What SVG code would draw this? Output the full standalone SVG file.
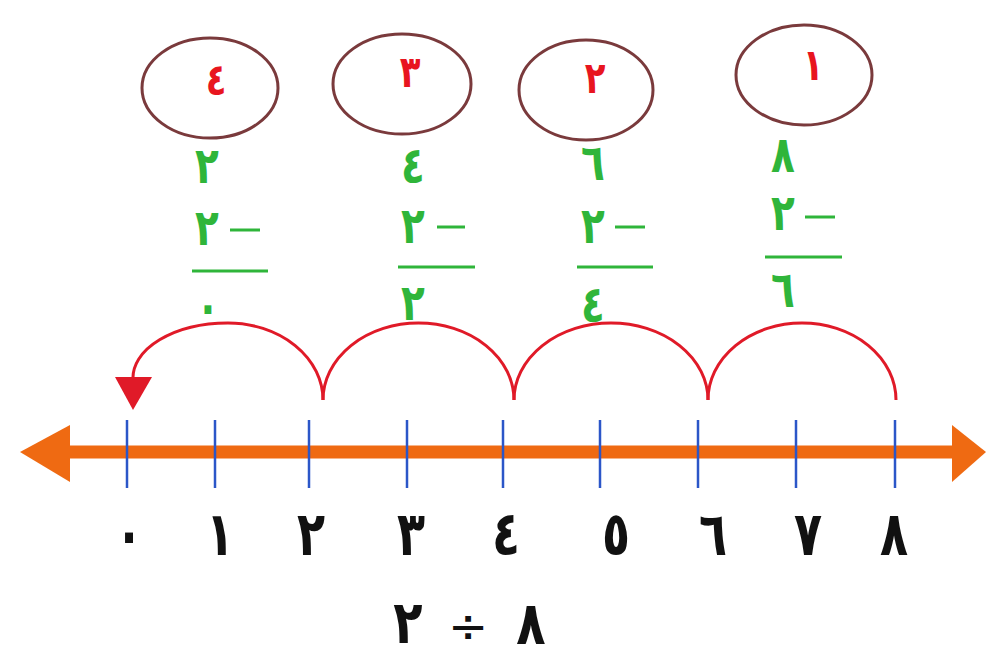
<svg xmlns="http://www.w3.org/2000/svg" width="986" height="657" viewBox="0 0 986 657">
  <style>
    .step { fill: none; stroke: #7a3a3c; stroke-width: 3; }
    .stepnum { font-family: "DejaVu Sans", sans-serif; font-weight: bold; font-size: 34px; fill: #e8151f; text-anchor: middle; }
    .calc { font-family: "DejaVu Sans", sans-serif; font-weight: bold; font-size: 39px; fill: #2fb53a; text-anchor: middle; }
    .bar { stroke: #2fb53a; stroke-width: 3; }
    .hop { fill: none; stroke: #e01a28; stroke-width: 3; }
    .tick { stroke: #2b56c8; stroke-width: 2.5; }
    .num { font-family: "DejaVu Sans", sans-serif; font-weight: bold; font-size: 46px; fill: #111; text-anchor: middle; }
    .big { font-size: 48px; }
    .op { font-weight: normal; }
  </style>
  <rect width="986" height="657" fill="#fff"/>

  <!-- step circles -->
  <g id="step4"><ellipse class="step" cx="210" cy="88" rx="68" ry="50"/><text class="stepnum" transform="translate(216,95) scale(1,1.3)">٤</text></g>
  <g id="step3"><ellipse class="step" cx="402" cy="84" rx="69" ry="50"/><text class="stepnum" transform="translate(410,87) scale(1,1.3)">٣</text></g>
  <g id="step2"><ellipse class="step" cx="586" cy="90" rx="67" ry="50"/><text class="stepnum" transform="translate(595,93) scale(1,1.3)">٢</text></g>
  <g id="step1"><ellipse class="step" cx="804" cy="75" rx="68" ry="50"/><text class="stepnum" transform="translate(813,80) scale(1,1.3)">١</text></g>

  <!-- subtraction columns -->
  <g id="calc4">
    <text class="calc" transform="translate(207,183) scale(1,1.3)">٢</text>
    <text class="calc" transform="translate(207,245) scale(1,1.3)">٢</text>
    <line class="bar" x1="230" y1="230" x2="260" y2="230"/>
    <line class="bar" x1="192" y1="271" x2="268" y2="271"/>
    <text class="calc" transform="translate(208,324) scale(1,1.3)">٠</text>
  </g>
  <g id="calc3">
    <text class="calc" transform="translate(413,183) scale(1,1.3)">٤</text>
    <text class="calc" transform="translate(413,243) scale(1,1.3)">٢</text>
    <line class="bar" x1="437" y1="227" x2="465" y2="227"/>
    <line class="bar" x1="398" y1="267" x2="475" y2="267"/>
    <text class="calc" transform="translate(413,320) scale(1,1.3)">٢</text>
  </g>
  <g id="calc2">
    <text class="calc" transform="translate(593,180) scale(1,1.3)">٦</text>
    <text class="calc" transform="translate(593,243) scale(1,1.3)">٢</text>
    <line class="bar" x1="615" y1="227" x2="645" y2="227"/>
    <line class="bar" x1="577" y1="267" x2="653" y2="267"/>
    <text class="calc" transform="translate(593,322) scale(1,1.3)">٤</text>
  </g>
  <g id="calc1">
    <text class="calc" transform="translate(783,172) scale(1,1.3)">٨</text>
    <text class="calc" transform="translate(783,230) scale(1,1.3)">٢</text>
    <line class="bar" x1="805" y1="217" x2="835" y2="217"/>
    <line class="bar" x1="765" y1="257" x2="842" y2="257"/>
    <text class="calc" transform="translate(783,307) scale(1,1.3)">٦</text>
  </g>

  <!-- jumps along the line -->
  <g id="connectors">
    <path class="hop" d="M896,400 A94,77 0 0 0 708,400"/>
    <path class="hop" d="M708,400 A97,77 0 0 0 514,400"/>
    <path class="hop" d="M514,400 A95.5,77 0 0 0 323,400"/>
    <path class="hop" d="M323,400 A95,77 0 0 0 228,323 A95,55 0 0 0 133,380"/>
    <polygon points="115,377 152,377 133,410" fill="#e01a28"/>
  </g>

  <!-- number line -->
  <g id="numberline">
    <line x1="60" y1="452" x2="955" y2="452" stroke="#ef6a12" stroke-width="13"/>
    <polygon points="20,452 70,425 70,482" fill="#ef6a12"/>
    <polygon points="986,452 952,425 952,482" fill="#ef6a12"/>
    <g class="ticks">
      <line class="tick" x1="127" y1="420" x2="127" y2="488"/>
      <line class="tick" x1="215" y1="420" x2="215" y2="488"/>
      <line class="tick" x1="309" y1="420" x2="309" y2="488"/>
      <line class="tick" x1="407" y1="420" x2="407" y2="488"/>
      <line class="tick" x1="503" y1="420" x2="503" y2="488"/>
      <line class="tick" x1="600" y1="420" x2="600" y2="488"/>
      <line class="tick" x1="698" y1="420" x2="698" y2="488"/>
      <line class="tick" x1="796" y1="420" x2="796" y2="488"/>
      <line class="tick" x1="895" y1="420" x2="895" y2="488"/>
    </g>
    <g class="labels">
      <text class="num" transform="translate(129,555) scale(1,1.33)">٠</text>
      <text class="num" transform="translate(220,555) scale(1,1.33)">١</text>
      <text class="num" transform="translate(311,555) scale(1,1.33)">٢</text>
      <text class="num" transform="translate(411,555) scale(1,1.33)">٣</text>
      <text class="num" transform="translate(506,555) scale(1,1.33)">٤</text>
      <text class="num" transform="translate(616,555) scale(1,1.33)">٥</text>
      <text class="num" transform="translate(713,555) scale(1,1.33)">٦</text>
      <text class="num" transform="translate(808,555) scale(1,1.33)">٧</text>
      <text class="num" transform="translate(894,555) scale(1,1.33)">٨</text>
    </g>
  </g>

  <!-- expression -->
  <g id="expression">
    <text class="num big" transform="translate(408,643) scale(1,1.25)">٢</text>
    <text class="num big op" transform="translate(468,642)">÷</text>
    <text class="num big" transform="translate(531,644) scale(1,1.25)">٨</text>
  </g>
</svg>
